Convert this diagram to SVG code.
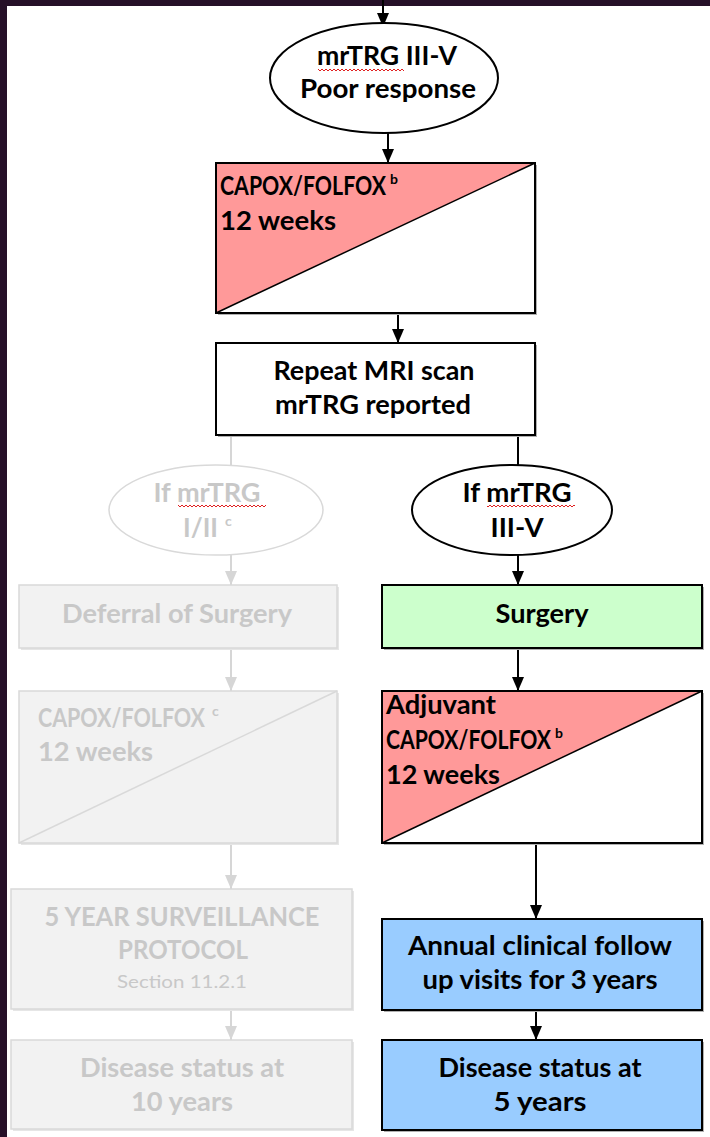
<svg xmlns="http://www.w3.org/2000/svg" width="710" height="1137" viewBox="0 0 710 1137">
  <defs>
    <style>
      .t { font-family: Lato, "Liberation Sans", sans-serif; font-weight: 700; font-size: 27px; fill: #000; }
      .g .t { fill: #c8c8c8; }
      .c { text-anchor: middle; }
      .caps { font-size: 26px; }
      .sup { font-size: 14px; }
      .box { stroke: #000; stroke-width: 2; }
      .gbox { fill: #f2f2f2; stroke: #d9d9d9; stroke-width: 1.5; }
      .shadow { fill: #b0b0b0; }
      .gshadow { fill: #e6e6e6; }
      .line { stroke: #000; stroke-width: 2; fill: none; }
      .gline { stroke: #d6d6d6; stroke-width: 2; fill: none; }
    </style>
    <marker id="ah" markerUnits="userSpaceOnUse" markerWidth="16" markerHeight="16" viewBox="0 0 16 16" refX="15" refY="8" orient="auto">
      <path d="M1,2 L15,8 L1,14 Z" fill="#000"/>
    </marker>
    <marker id="gah" markerUnits="userSpaceOnUse" markerWidth="16" markerHeight="16" viewBox="0 0 16 16" refX="15" refY="8" orient="auto">
      <path d="M1,2 L15,8 L1,14 Z" fill="#d6d6d6"/>
    </marker>
    <!-- wavy spell-check underline -->
    <pattern id="wave" patternUnits="userSpaceOnUse" width="4" height="4">
      <polyline points="0,3 2,1 4,3" fill="none" stroke="#e02020" stroke-width="1"/>
    </pattern>
  </defs>

  <rect x="0" y="0" width="710" height="1137" fill="#fff"/>
  <!-- window frame -->
  <rect x="0" y="0" width="710" height="6" fill="#261028"/>
  <rect x="0" y="0" width="7" height="1137" fill="#261028"/>

  <!-- connectors -->
  <g id="connectors">
    <path class="line" d="M383,0 V27" marker-end="url(#ah)"/>
    <path class="line" d="M388,133 V163" marker-end="url(#ah)"/>
    <path class="line" d="M398,313 V343" marker-end="url(#ah)"/>
    <path class="line" d="M518,435 V465"/>
    <path class="line" d="M518,555 V585" marker-end="url(#ah)"/>
    <path class="line" d="M518,648 V691" marker-end="url(#ah)"/>
    <path class="line" d="M536,843 V919" marker-end="url(#ah)"/>
    <path class="line" d="M536,1010 V1040" marker-end="url(#ah)"/>
    <path class="gline" d="M231,435 V465"/>
    <path class="gline" d="M231,555 V585" marker-end="url(#gah)"/>
    <path class="gline" d="M231,648 V691" marker-end="url(#gah)"/>
    <path class="gline" d="M231,843 V889" marker-end="url(#gah)"/>
    <path class="gline" d="M231,1009 V1040" marker-end="url(#gah)"/>
  </g>

  <g id="poor-response">
    <ellipse cx="384" cy="78" rx="114" ry="55" fill="#fff" stroke="#000" stroke-width="2"/>
    <text class="t c" x="387" y="65" textLength="140" lengthAdjust="spacingAndGlyphs">mrTRG III-V</text>
    <text class="t c" x="388" y="98" textLength="176" lengthAdjust="spacingAndGlyphs">Poor response</text>
    <rect x="318" y="67" width="86" height="4" fill="url(#wave)"/>
  </g>

  <g id="capox-1">
    <rect class="shadow" x="218" y="165" width="319" height="150"/>
    <rect x="216" y="163" width="319" height="150" fill="#fff"/>
    <polygon points="216,163 535,163 216,313" fill="#ff9999"/>
    <line x1="216" y1="313" x2="535" y2="163" stroke="#000" stroke-width="1.5"/>
    <rect class="box" x="216" y="163" width="319" height="150" fill="none"/>
    <text class="t caps" x="220" y="195"><tspan textLength="166" lengthAdjust="spacingAndGlyphs">CAPOX/FOLFOX</tspan><tspan class="sup" dx="4" dy="-11">b</tspan></text>
    <text class="t" x="220" y="230" textLength="116" lengthAdjust="spacingAndGlyphs">12 weeks</text>
  </g>

  <g id="repeat-mri">
    <rect class="shadow" x="218" y="345" width="319" height="92"/>
    <rect class="box" x="216" y="343" width="319" height="92" fill="#fff"/>
    <text class="t c" x="374" y="380" textLength="201" lengthAdjust="spacingAndGlyphs">Repeat MRI scan</text>
    <text class="t c" x="373" y="414" textLength="196" lengthAdjust="spacingAndGlyphs">mrTRG reported</text>
  </g>

  <g id="if-good" class="g">
    <ellipse cx="216" cy="510" rx="107" ry="45" fill="#fff" stroke="#d9d9d9" stroke-width="1.5"/>
    <text class="t c" x="207" y="502" textLength="107" lengthAdjust="spacingAndGlyphs">If mrTRG</text>
    <text class="t" x="183" y="537"><tspan textLength="35" lengthAdjust="spacingAndGlyphs">I/II</tspan><tspan class="sup" dx="7" dy="-11">c</tspan></text>
    <rect x="178" y="505" width="88" height="4" fill="url(#wave)"/>
  </g>

  <g id="if-poor">
    <ellipse cx="512" cy="510" rx="100" ry="45" fill="#fff" stroke="#000" stroke-width="2"/>
    <text class="t c" x="517" y="502" textLength="109" lengthAdjust="spacingAndGlyphs">If mrTRG</text>
    <text class="t c" x="517" y="537" textLength="53" lengthAdjust="spacingAndGlyphs">III-V</text>
    <rect x="487" y="505" width="88" height="4" fill="url(#wave)"/>
  </g>

  <g id="deferral" class="g">
    <rect class="gshadow" x="21" y="587" width="318" height="63"/>
    <rect class="gbox" x="19" y="585" width="318" height="63"/>
    <text class="t c" x="177" y="623" textLength="230" lengthAdjust="spacingAndGlyphs">Deferral of Surgery</text>
  </g>

  <g id="surgery">
    <rect class="shadow" x="384" y="587" width="320" height="63"/>
    <rect class="box" x="382" y="585" width="320" height="63" fill="#ccffcc"/>
    <text class="t c" x="542" y="623" textLength="93" lengthAdjust="spacingAndGlyphs">Surgery</text>
  </g>

  <g id="capox-2" class="g">
    <rect class="gshadow" x="21" y="693" width="318" height="152"/>
    <rect class="gbox" x="19" y="691" width="318" height="152"/>
    <line x1="19" y1="843" x2="337" y2="691" stroke="#d9d9d9" stroke-width="1.5"/>
    <text class="t caps" x="38" y="727"><tspan textLength="167" lengthAdjust="spacingAndGlyphs">CAPOX/FOLFOX</tspan><tspan class="sup" dx="7" dy="-11">c</tspan></text>
    <text class="t" x="38" y="761" textLength="115" lengthAdjust="spacingAndGlyphs">12 weeks</text>
  </g>

  <g id="adjuvant">
    <rect class="shadow" x="384" y="693" width="320" height="152"/>
    <rect x="382" y="691" width="320" height="152" fill="#fff"/>
    <polygon points="382,691 702,691 382,843" fill="#ff9999"/>
    <line x1="382" y1="843" x2="702" y2="691" stroke="#000" stroke-width="1.5"/>
    <rect class="box" x="382" y="691" width="320" height="152" fill="none"/>
    <text class="t" x="386" y="714" textLength="110" lengthAdjust="spacingAndGlyphs">Adjuvant</text>
    <text class="t caps" x="386" y="749"><tspan textLength="165" lengthAdjust="spacingAndGlyphs">CAPOX/FOLFOX</tspan><tspan class="sup" dx="4" dy="-11">b</tspan></text>
    <text class="t" x="386" y="784" textLength="114" lengthAdjust="spacingAndGlyphs">12 weeks</text>
  </g>

  <g id="surveillance" class="g">
    <rect class="gshadow" x="13" y="891" width="341" height="120"/>
    <rect class="gbox" x="11" y="889" width="341" height="120"/>
    <text class="t c" x="182" y="926" textLength="275" lengthAdjust="spacingAndGlyphs">5 YEAR SURVEILLANCE</text>
    <text class="t c" x="183" y="959" textLength="130" lengthAdjust="spacingAndGlyphs">PROTOCOL</text>
    <text class="t c" x="182" y="988" style="font-weight:400;font-size:17px" textLength="130" lengthAdjust="spacingAndGlyphs">Section 11.2.1</text>
  </g>

  <g id="follow-up">
    <rect class="shadow" x="384" y="921" width="320" height="91"/>
    <rect class="box" x="382" y="919" width="320" height="91" fill="#99ccff"/>
    <text class="t c" x="540" y="955" textLength="264" lengthAdjust="spacingAndGlyphs">Annual clinical follow</text>
    <text class="t c" x="540" y="989" textLength="235" lengthAdjust="spacingAndGlyphs">up visits for 3 years</text>
  </g>

  <g id="status-10" class="g">
    <rect class="gshadow" x="13" y="1042" width="341" height="89"/>
    <rect class="gbox" x="11" y="1040" width="341" height="89"/>
    <text class="t c" x="182" y="1077" textLength="204" lengthAdjust="spacingAndGlyphs">Disease status at</text>
    <text class="t c" x="182" y="1111" textLength="102" lengthAdjust="spacingAndGlyphs">10 years</text>
  </g>

  <g id="status-5">
    <rect class="shadow" x="384" y="1042" width="320" height="90"/>
    <rect class="box" x="382" y="1040" width="320" height="90" fill="#99ccff"/>
    <text class="t c" x="540" y="1077" textLength="203" lengthAdjust="spacingAndGlyphs">Disease status at</text>
    <text class="t c" x="540" y="1111" textLength="93" lengthAdjust="spacingAndGlyphs">5 years</text>
  </g>
</svg>
